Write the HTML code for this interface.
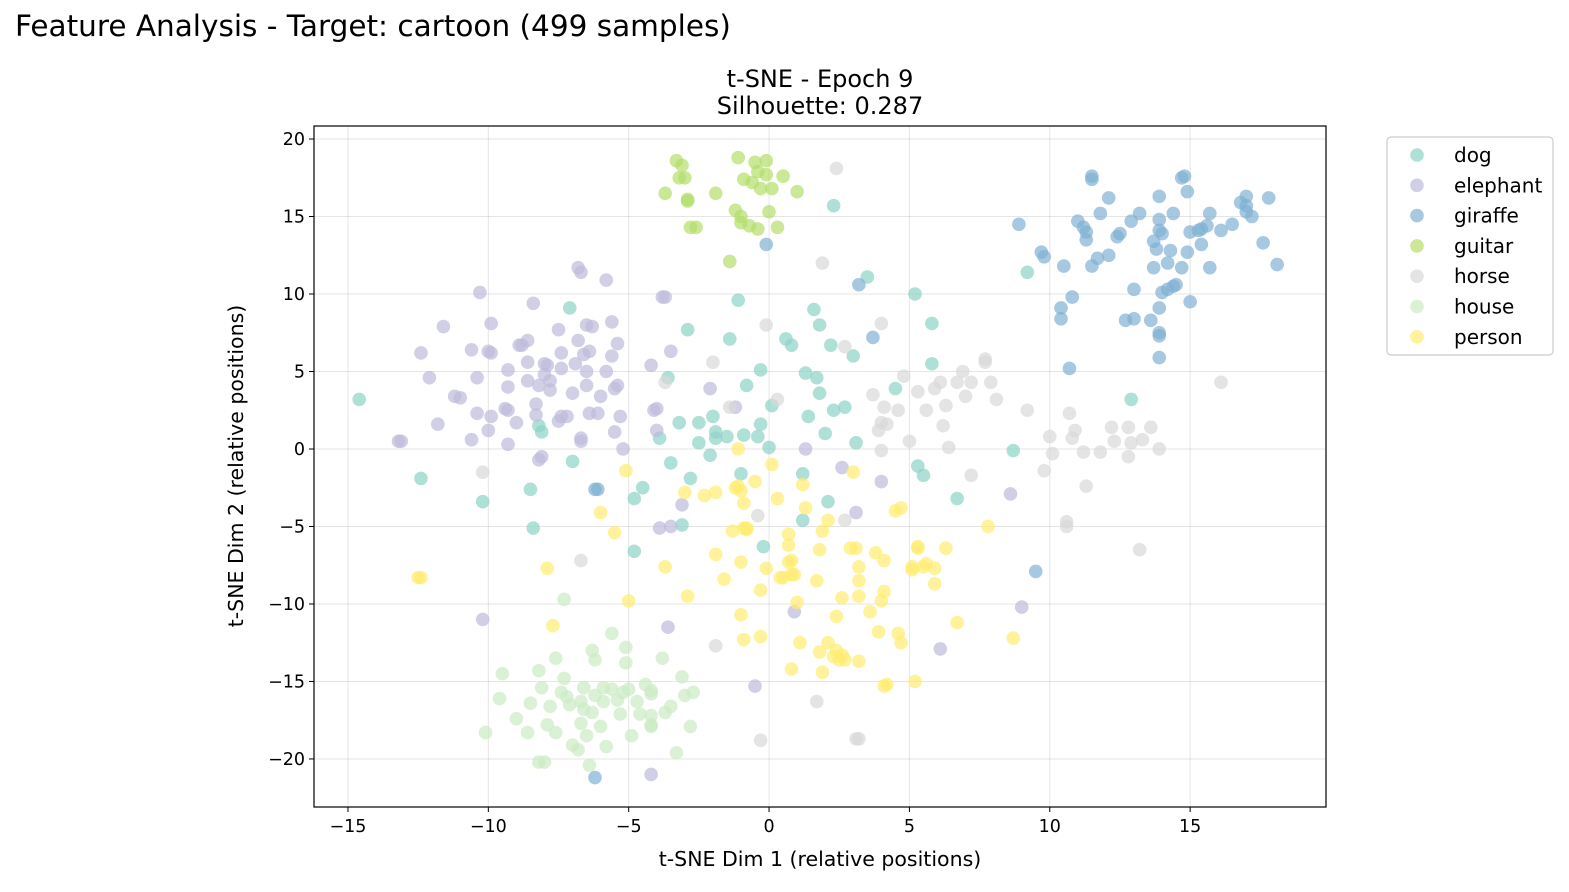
<!DOCTYPE html>
<html><head><meta charset="utf-8"><style>
html,body{margin:0;padding:0;background:#fff;}
svg text{font-family:"DejaVu Sans","Liberation Sans",sans-serif;fill:#000;}
</style></head><body>
<svg id="chart" width="1569" height="887" viewBox="0 0 1569 887" xmlns="http://www.w3.org/2000/svg">
<rect width="1569" height="887" fill="#fff"/>
<text x="15" y="36" font-size="29.5">Feature Analysis - Target: cartoon (499 samples)</text>
<text x="820" y="87" font-size="24" text-anchor="middle">t-SNE - Epoch 9</text>
<text x="820" y="114" font-size="24" text-anchor="middle">Silhouette: 0.287</text>
<g id="grid"></g>
<g id="points"></g>
<rect x="314" y="126" width="1012" height="681" fill="none" stroke="#000" stroke-width="1.2"/>
<g id="xticks"></g>
<g id="yticks"></g>
<text x="820" y="866" font-size="20.5" text-anchor="middle">t-SNE Dim 1 (relative positions)</text>
<text transform="translate(243,466) rotate(-90)" font-size="20.5" text-anchor="middle">t-SNE Dim 2 (relative positions)</text>
<g id="legend">
<rect x="1387" y="137" width="166" height="218" rx="4" fill="#fff" stroke="#ccc" stroke-width="1.2"/>
</g>
</svg>
<script>
const classes=["dog","elephant","giraffe","guitar","horse","house","person"];
const colors=["#8dd3c7","#bebada","#80b1d3","#b3de69","#d9d9d9","#ccebc5","#ffed6f"];
const xTicks=[-15,-10,-5,0,5,10,15];
const yTicks=[-20,-15,-10,-5,0,5,10,15,20];
const dog=[[-14.6,3.2],[-12.4,-1.9],[-10.2,-3.4],[-8.5,-2.6],[-8.4,-5.1],[-8.1,1.1],[-7.1,9.1],[-7.0,-0.8],[-3.6,4.6],[-3.9,0.7],[-3.5,-0.9],[-4.5,-2.5],[-4.8,-3.2],[-4.8,-6.6],[-3.2,1.7],[-3.1,-4.9],[-2.9,7.7],[-2.8,-1.9],[-2.5,1.7],[-2.5,0.4],[-2.1,-0.4],[-2.0,2.1],[-1.9,1.1],[-1.9,0.7],[-1.5,0.8],[-1.4,7.1],[-1.1,9.6],[-1.0,-1.6],[-0.9,0.9],[-0.8,4.1],[-0.4,0.8],[-0.3,5.1],[-0.3,1.6],[0.0,0.1],[0.1,2.8],[-0.2,-6.3],[0.6,7.1],[0.8,6.7],[1.3,4.9],[1.2,-1.6],[1.4,2.1],[1.2,-4.6],[1.6,9.0],[1.7,4.6],[1.8,8.0],[1.8,3.6],[2.0,1.0],[2.2,6.7],[2.1,-3.4],[2.3,2.5],[2.3,15.7],[2.7,2.7],[3.0,6.0],[3.1,0.4],[3.5,11.1],[4.5,3.9],[5.2,10.0],[5.3,-1.1],[5.5,-1.7],[5.8,5.5],[5.8,8.1],[6.7,-3.2],[8.7,-0.1],[9.2,11.4],[12.9,3.2],[-8.2,1.5]];
const elephant=[[-13.2,0.5],[-13.1,0.5],[-12.4,6.2],[-12.1,4.6],[-11.6,7.9],[-11.2,3.4],[-11.0,3.3],[-11.8,1.6],[-10.6,6.4],[-10.6,0.6],[-10.4,4.6],[-10.4,2.3],[-10.3,10.1],[-9.9,8.1],[-10.0,6.3],[-9.9,6.2],[-9.9,2.1],[-10.0,1.2],[-9.3,2.5],[-9.4,2.6],[-9.3,0.3],[-9.3,5.1],[-9.3,4.0],[-9.0,1.7],[-8.9,6.7],[-8.8,6.7],[-8.6,7.0],[-8.6,5.6],[-8.6,4.4],[-8.4,9.4],[-8.3,2.2],[-8.3,2.9],[-8.2,-0.7],[-8.2,4.1],[-8.1,-0.5],[-8.0,5.5],[-8.0,4.8],[-7.9,5.4],[-7.8,4.4],[-7.8,3.8],[-7.5,7.7],[-7.5,1.8],[-7.4,6.2],[-7.4,2.1],[-7.4,5.2],[-7.2,2.1],[-7.0,3.6],[-6.9,5.5],[-6.8,7.0],[-6.8,11.7],[-6.7,11.4],[-6.7,0.7],[-6.7,0.5],[-6.6,6.1],[-6.5,5.0],[-6.5,8.0],[-6.5,4.1],[-6.4,6.3],[-6.3,7.9],[-6.4,2.3],[-6.1,2.3],[-6.0,3.4],[-5.8,5.0],[-5.8,10.9],[-5.6,8.2],[-5.6,6.0],[-5.5,3.9],[-5.5,1.1],[-5.4,4.1],[-5.4,6.8],[-5.3,2.1],[-5.2,0.0],[-4.2,5.4],[-4.1,2.5],[-4.0,2.6],[-3.8,9.8],[-3.7,9.8],[-3.5,6.3],[-3.9,-5.1],[-3.5,-5.0],[-3.1,-3.6],[-2.1,3.9],[-1.2,2.7],[1.3,0.0],[2.6,-1.2],[3.1,-4.1],[4.0,-2.1],[8.6,-2.9],[9.0,-10.2],[6.1,-12.9],[0.9,-10.5],[-0.5,-15.3],[-3.6,-11.5],[-10.2,-11.0],[-4.2,-21.0],[-4.0,1.2]];
const giraffe=[[8.9,14.5],[9.7,12.7],[9.8,12.4],[10.5,11.8],[10.4,9.1],[10.4,8.4],[10.8,9.8],[11.0,14.7],[11.2,14.3],[11.3,14.0],[11.3,13.5],[11.5,11.8],[11.7,12.3],[11.8,15.2],[11.5,17.6],[11.5,17.4],[12.1,16.2],[12.1,12.5],[12.4,13.7],[12.5,13.9],[12.9,14.7],[13.2,15.2],[13.0,10.3],[12.7,8.3],[13.0,8.4],[13.6,8.3],[13.9,9.1],[13.9,16.3],[13.9,14.8],[13.9,14.1],[13.7,13.4],[14.0,13.9],[13.8,12.9],[13.7,11.7],[14.2,12.0],[14.0,10.1],[14.2,10.3],[14.4,10.5],[14.5,10.6],[14.3,12.8],[14.4,15.2],[14.7,17.5],[14.8,17.6],[14.9,16.6],[15.0,14.0],[14.9,12.7],[14.7,11.7],[15.0,9.5],[13.9,7.5],[13.9,7.3],[13.9,5.9],[15.3,14.1],[15.4,14.2],[15.4,13.2],[15.6,14.4],[15.7,15.2],[15.7,11.7],[16.1,14.1],[16.5,14.5],[16.8,15.9],[17.0,16.3],[17.0,15.7],[17.2,15.0],[17.0,15.3],[17.6,13.3],[17.8,16.2],[18.1,11.9],[10.7,5.2],[9.5,-7.9],[3.7,7.2],[3.2,10.6],[-0.1,13.2],[-6.2,-2.6],[-6.1,-2.6],[-6.2,-21.2]];
const guitar=[[-3.3,18.6],[-3.1,18.3],[-3.2,17.5],[-3.0,17.5],[-3.7,16.5],[-2.9,16.1],[-2.8,14.3],[-2.6,14.3],[-1.9,16.5],[-1.1,18.8],[-0.5,18.5],[-0.1,18.6],[0.5,17.6],[-0.9,17.4],[-0.6,17.2],[-0.4,17.9],[-0.1,17.7],[-0.3,16.8],[0.1,16.8],[1.0,16.6],[-1.2,15.4],[-1.0,15.0],[-1.0,14.6],[-0.7,14.4],[-0.4,14.2],[0.0,15.3],[0.3,14.3],[-1.4,12.1],[-2.9,16.0]];
const horse=[[-10.2,-1.5],[-6.7,-7.2],[-3.7,4.3],[-2.0,5.6],[-1.4,2.7],[-0.4,-4.3],[-0.1,8.0],[0.3,3.2],[2.4,18.1],[1.9,12.0],[2.7,6.6],[1.7,-16.3],[3.1,-18.7],[3.2,-18.7],[4.0,8.1],[4.0,1.7],[3.9,1.2],[3.7,3.5],[4.0,-0.1],[4.1,2.7],[4.2,1.6],[4.6,2.5],[5.0,0.5],[4.8,4.7],[5.3,3.7],[5.6,2.5],[5.9,3.9],[6.1,4.3],[6.2,1.5],[6.4,0.1],[6.3,2.8],[6.7,4.3],[6.9,5.0],[7.0,3.4],[7.2,4.3],[7.2,-1.7],[7.7,5.6],[7.9,4.3],[8.1,3.2],[9.2,2.5],[9.8,-1.4],[10.0,0.8],[10.1,-0.3],[10.6,-4.7],[10.6,-5.0],[10.7,2.3],[10.8,0.7],[10.9,1.2],[11.2,-0.2],[11.3,-2.4],[11.8,-0.2],[12.2,1.4],[12.3,0.5],[12.8,1.4],[12.8,-0.5],[12.9,0.4],[13.3,0.6],[13.2,-6.5],[13.6,1.4],[13.9,0.0],[16.1,4.3],[-0.3,-18.8],[-1.9,-12.7],[2.7,-4.6],[7.7,5.8]];
const house=[[-10.1,-18.3],[-9.6,-16.1],[-9.5,-14.5],[-9.0,-17.4],[-8.6,-18.3],[-8.5,-16.4],[-8.2,-14.3],[-8.1,-15.4],[-8.2,-20.2],[-8.0,-20.2],[-7.8,-16.6],[-7.9,-17.8],[-7.6,-18.3],[-7.6,-13.5],[-7.4,-15.7],[-7.3,-9.7],[-7.3,-14.8],[-7.2,-16.0],[-7.1,-16.5],[-7.0,-19.1],[-6.8,-19.4],[-6.7,-16.3],[-6.7,-17.7],[-6.6,-15.4],[-6.6,-16.8],[-6.4,-20.4],[-6.3,-13.0],[-6.3,-17.0],[-6.2,-15.9],[-6.2,-13.6],[-6.0,-17.9],[-5.9,-16.3],[-5.9,-15.4],[-5.8,-19.2],[-5.6,-11.9],[-5.6,-15.5],[-5.4,-16.2],[-5.2,-15.7],[-5.3,-17.1],[-5.1,-13.8],[-5.1,-12.8],[-5.0,-15.5],[-4.9,-18.5],[-4.7,-16.3],[-4.6,-17.1],[-4.4,-15.2],[-4.2,-15.6],[-4.2,-17.2],[-4.2,-17.9],[-4.2,-15.8],[-4.2,-17.8],[-3.8,-13.5],[-3.7,-17.0],[-3.5,-16.6],[-3.1,-14.7],[-3.0,-15.9],[-2.8,-17.9],[-2.7,-15.7],[-3.3,-19.6],[-6.5,-18.5]];
const person=[[-12.5,-8.3],[-12.4,-8.3],[-7.9,-7.7],[-7.7,-11.4],[-6.0,-4.1],[-5.5,-5.4],[-5.1,-1.4],[-5.0,-9.8],[-3.7,-7.6],[-2.9,-9.5],[-3.0,-2.8],[-2.3,-3.0],[-1.9,-6.8],[-1.9,-2.8],[-1.6,-8.4],[-1.3,-5.3],[-1.2,-2.5],[-1.1,0.0],[-1.1,-2.4],[-1.0,-7.3],[-0.9,-5.1],[-0.9,-3.5],[-0.8,-5.1],[-0.8,-5.2],[-1.0,-2.7],[-1.0,-10.7],[-0.9,-12.3],[-0.5,-2.1],[-0.3,-9.1],[-0.3,-12.1],[-0.1,-7.7],[0.1,-1.0],[0.3,-3.2],[0.4,-8.3],[0.5,-8.3],[0.7,-5.5],[0.7,-6.2],[0.8,-7.2],[0.8,-8.1],[0.8,-14.2],[0.7,-7.3],[0.9,-8.1],[1.0,-9.9],[1.1,-12.5],[1.2,-2.3],[1.3,-3.8],[1.8,-6.5],[1.7,-8.5],[1.8,-13.1],[1.9,-5.3],[1.9,-14.4],[2.1,-4.6],[2.1,-12.5],[2.3,-13.4],[2.4,-10.8],[2.4,-13.0],[2.5,-13.6],[2.6,-9.6],[2.7,-13.6],[2.6,-13.3],[2.9,-6.4],[3.0,-1.5],[3.1,-6.4],[3.2,-7.6],[3.2,-9.5],[3.2,-8.5],[3.2,-13.7],[3.6,-10.5],[3.8,-6.7],[3.9,-11.8],[4.0,-9.8],[4.1,-7.2],[4.1,-9.2],[4.1,-15.3],[4.2,-15.2],[4.5,-4.0],[4.6,-11.9],[4.7,-12.5],[4.7,-3.8],[5.1,-7.8],[5.1,-7.6],[5.3,-6.3],[5.3,-6.4],[5.5,-7.6],[5.6,-7.4],[5.9,-7.7],[5.9,-8.7],[6.3,-6.4],[6.7,-11.2],[7.8,-5.0],[8.7,-12.2],[5.2,-15.0]];
const series=[dog,elephant,giraffe,guitar,horse,house,person];

const L=314,R=1326,T=126,B=807;
const xMin=-16.21,xMax=19.84,yMin=-23.1,yMax=20.84;
const sx=v=>L+(v-xMin)/(xMax-xMin)*(R-L);
const sy=v=>B-(v-yMin)/(yMax-yMin)*(B-T);
const NS="http://www.w3.org/2000/svg";
function mk(tag,attrs,parent){const e=document.createElementNS(NS,tag);for(const k in attrs)e.setAttribute(k,attrs[k]);parent.appendChild(e);return e;}
const grid=document.getElementById('grid'),xt=document.getElementById('xticks'),yt=document.getElementById('yticks');
xTicks.forEach(t=>{const x=sx(t);
 const g=mk('line',{x1:x,x2:x,y1:T,y2:B,stroke:'#000','stroke-opacity':0.1,'stroke-width':1},grid);
 
 
 const tk=mk('line',{x1:x,x2:x,y1:B,y2:B+5,stroke:'#000','stroke-width':1},xt);
 
 
 const tx=mk('text',{x:x,y:B+25,'font-size':17.5,'text-anchor':'middle'},xt);
 tx.textContent=(t<0?'\u2212'+Math.abs(t):t);
 
 
});
yTicks.forEach(t=>{const y=sy(t);
 const g=mk('line',{x1:L,x2:R,y1:y,y2:y,stroke:'#000','stroke-opacity':0.1,'stroke-width':1},grid);
 
 
 const tk=mk('line',{x1:L-5,x2:L,y1:y,y2:y,stroke:'#000','stroke-width':1},yt);
 
 
 const tx=mk('text',{x:L-9,y:y+6,'font-size':17.5,'text-anchor':'end'},yt);
 tx.textContent=(t<0?'\u2212'+Math.abs(t):t);
 
 
});
const pts=document.getElementById('points');
series.forEach((s,i)=>{s.forEach(p=>{
 const c=mk('circle',{cx:sx(p[0]),cy:sy(p[1]),r:6.8,fill:colors[i],'fill-opacity':0.7},pts);
 
 
});});
const leg=document.getElementById('legend');
classes.forEach((c,i)=>{const y=155+i*30.3;
 const m=mk('circle',{cx:1417,cy:y,r:6.8,fill:colors[i],'fill-opacity':0.7},leg);
 
 
 const t=mk('text',{x:1454,y:y+7,'font-size':20},leg);
 t.textContent=c;
 
 
});
</script>
</body></html>
